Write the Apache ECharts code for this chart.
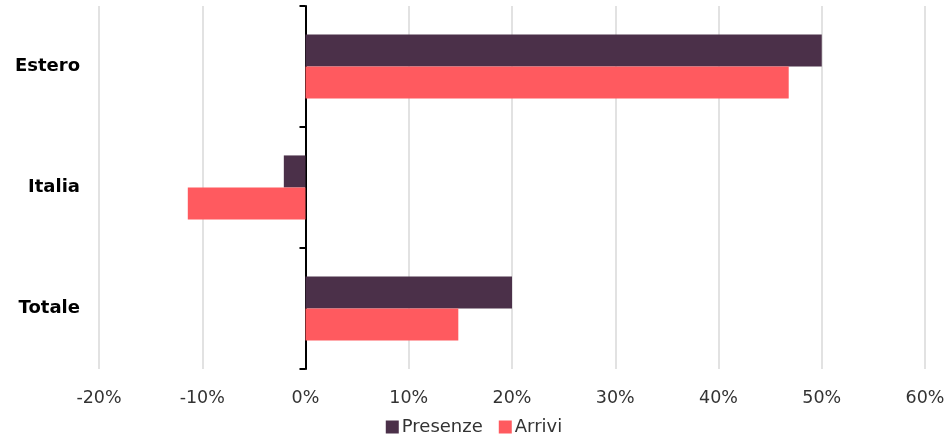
<!DOCTYPE html>
<html>
<head>
<meta charset="utf-8">
<script src="https://cdn.jsdelivr.net/npm/echarts@6/dist/echarts.min.js"></script>
<style>
  html, body { margin: 0; padding: 0; background: #fff; }
  #chart { width: 948px; height: 439px; }
</style>
</head>
<body>
<div id="chart"></div>
<script>
const categories = ["Estero", "Italia", "Totale"];
const presenze = [50.0, -2.1, 20.0];
const arrivi = [46.8, -11.4, 14.8];

const chart = echarts.init(document.getElementById("chart"));
const font = "DejaVu Sans";

// grid is 826px wide over -20..60, so 0% sits 206.5px right of the left edge
const zeroOffset = -206.5;

const option = {
  animation: false,
  grid: { left: 99, right: 23, top: 6, bottom: 70, containLabel: false, outerBoundsMode: "none" },
  legend: {
    bottom: 3,
    padding: 0,
    left: "center",
    itemWidth: 13,
    itemHeight: 13,
    itemGap: 16,
    icon: "rect",
    textStyle: { fontFamily: font, fontSize: 18, color: "#333", padding: [0, 0, 0, -2] },
    data: ["Presenze", "Arrivi"]
  },
  xAxis: {
    type: "value",
    min: -20,
    max: 60,
    interval: 10,
    axisLine: { show: false },
    axisTick: { show: false },
    axisLabel: {
      formatter: "{value}%",
      fontFamily: font,
      fontSize: 17.5,
      color: "#333",
      margin: 20
    },
    splitLine: { lineStyle: { color: "#d9d9d9", width: 1.5 } }
  },
  yAxis: [
    {
      type: "category",
      data: categories,
      inverse: true,
      axisLine: { show: false },
      axisTick: { show: false },
      axisLabel: {
        fontFamily: font,
        fontSize: 18,
        fontWeight: "bold",
        color: "#000",
        margin: 19
      }
    },
    {
      type: "category",
      data: categories,
      inverse: true,
      position: "left",
      offset: zeroOffset,
      axisLine: { show: true, onZero: false, lineStyle: { color: "#000", width: 2 } },
      axisTick: { show: true, length: 6, lineStyle: { color: "#000", width: 2 } },
      axisLabel: { show: false },
      splitLine: { show: false }
    }
  ],
  series: [
    {
      name: "Presenze",
      type: "bar",
      data: presenze,
      barGap: "0%",
      barCategoryGap: "47%",
      itemStyle: { color: "#4b3049" }
    },
    {
      name: "Arrivi",
      type: "bar",
      data: arrivi,
      barGap: "0%",
      barCategoryGap: "47%",
      itemStyle: { color: "#ff5a5f" }
    }
  ]
};

chart.setOption(option);
</script>
</body>
</html>
